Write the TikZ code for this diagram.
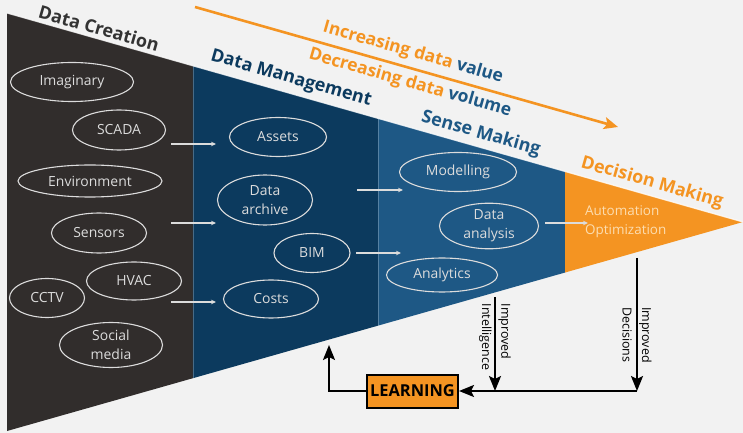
\documentclass[tikz,border=0pt]{standalone}
\usepackage{fontspec}
\setmainfont{Open Sans}
\usetikzlibrary{arrows.meta,calc,shapes.geometric}
\definecolor{bgc}{HTML}{F2F2F2}
\definecolor{cdark}{HTML}{312D2C}
\definecolor{cnavy}{HTML}{0C3A5E}
\definecolor{cblue}{HTML}{1E5885}
\definecolor{corange}{HTML}{F49422}
\definecolor{ctitle}{HTML}{333333}
\definecolor{elc}{HTML}{DCDCDC}
\definecolor{cream}{HTML}{FCDDB0}
\tikzset{
  ell/.style={ellipse, draw=elc, line width=1.1bp, text=elc, inner sep=0pt, align=center,
    font=\fontsize{14}{19}\selectfont},
  warrow/.style={draw=elc, line width=1.3bp, -{Stealth[length=5bp,width=4.5bp]}},
  title/.style={rotate=-15.86, font=\fontsize{18}{20}\selectfont\bfseries, inner sep=0pt},
  trend/.style={rotate=-15.86, font=\fontsize{17.5}{20}\selectfont\bfseries, text=corange, inner sep=0pt},
  fb/.style={draw=black, line width=2.2bp, -{Stealth[length=15bp,width=12bp,inset=3bp]}},
  vlabel/.style={rotate=-90, align=left, font=\fontsize{12.5}{19.5}\selectfont, inner sep=0pt},
}
\begin{document}
\begin{tikzpicture}[x=1bp,y=-1bp]
\useasboundingbox (0,0) rectangle (743,433);
\fill[bgc] (0,0) rectangle (743,433);
% funnel
\coordinate (A) at (7,13);
\coordinate (B) at (7,431);
\coordinate (P) at (743,222);
\coordinate (T1) at ($(A)!0.2527!(P)$);
\coordinate (B1) at ($(B)!0.2527!(P)$);
\coordinate (T2) at ($(A)!0.5041!(P)$);
\coordinate (B2) at ($(B)!0.5041!(P)$);
\coordinate (T3) at ($(A)!0.7582!(P)$);
\coordinate (B3) at ($(B)!0.7582!(P)$);
\fill[cdark] (A) -- (T1) -- (B1) -- (B) -- cycle;
\fill[cnavy] (T1) -- (T2) -- (B2) -- (B1) -- cycle;
\fill[cblue] (T2) -- (T3) -- (B3) -- (B2) -- cycle;
\fill[corange] (T3) -- (P) -- (B3) -- cycle;
\draw[white, opacity=0.25, line width=0.8bp] (T1) -- (B1) (T2) -- (B2);
\draw[white, opacity=0.8, line width=1.2bp] (A) -- (P);

% titles
\node[title, text=ctitle] (tcreate) at (99,28) {Data Creation};
\node[title, text=cnavy] (tmanage) at (291,79) {Data Management};
\node[title, text=cblue] (tsense) at (481,134) {Sense Making};
\node[title, text=corange] (tdecide) at (652,183) {Decision Making};

% trend
\coordinate (ts) at (195,7);
\coordinate (te) at (618,127);
\draw[corange, line width=2.6bp, -{Stealth[length=14bp,width=12bp,inset=3bp]}] (ts) -- (te);
\node[trend] (tinc) at (413,53) {Increasing data \textcolor{cblue}{value}};
\node[trend] (tdec) at (410,83) {Decreasing data \textcolor{cblue}{volume}};

% data creation ellipses
\node[ell, minimum width=123bp, minimum height=39bp] (imag) at (72,82) {Imaginary};
\node[ell, minimum width=93bp, minimum height=40bp] (scada) at (119,130) {SCADA};
\node[ell, minimum width=144bp, minimum height=32bp] (env) at (90,181) {Environment};
\node[ell, minimum width=95bp, minimum height=40bp] (sens) at (99,233) {Sensors};
\node[ell, minimum width=95bp, minimum height=38bp] (hvac) at (134,281) {HVAC};
\node[ell, minimum width=75bp, minimum height=39bp] (cctv) at (47,298) {CCTV};
\node[ell, minimum width=103bp, minimum height=45bp] (social) at (111,345) {Social\\media};

% data management ellipses
\node[ell, minimum width=97bp, minimum height=39bp] (assets) at (278,137) {Assets};
\node[ell, minimum width=95bp, minimum height=50bp] (archive) at (265,200) {Data\\archive};
\node[ell, minimum width=76bp, minimum height=39bp] (bim) at (312,253) {BIM};
\node[ell, minimum width=95bp, minimum height=38bp] (costs) at (271,299) {Costs};

% sense making ellipses
\node[ell, minimum width=117bp, minimum height=39bp] (model) at (458,172) {Modelling};
\node[ell, minimum width=99bp, minimum height=45bp] (anal) at (489,226) {Data\\analysis};
\node[ell, minimum width=111bp, minimum height=34bp] (analytics) at (442,275) {Analytics};

% decision making text
\node[align=left, text=cream, inner sep=0pt, anchor=west,
  font=\fontsize{13.5}{19}\selectfont] (auto) at (585,222) {Automation\\Optimization};

% small white arrows
\coordinate (a1s) at (171,144); \coordinate (a1e) at (216,144);
\coordinate (a2s) at (171,223); \coordinate (a2e) at (216,223);
\coordinate (a3s) at (171,302); \coordinate (a3e) at (216,302);
\coordinate (b1s) at (357,190); \coordinate (b1e) at (403,190);
\coordinate (b2s) at (356,253); \coordinate (b2e) at (401,253);
\coordinate (c1s) at (545,223); \coordinate (c1e) at (588,223);
\draw[warrow] (a1s) -- (a1e);
\draw[warrow] (a2s) -- (a2e);
\draw[warrow] (a3s) -- (a3e);
\draw[warrow] (b1s) -- (b1e);
\draw[warrow] (b2s) -- (b2e);
\draw[warrow] (c1s) -- (c1e);

% feedback loop
\node[draw=black, line width=2bp, fill=corange, minimum width=91bp, minimum height=33bp,
  inner sep=0pt, font=\fontsize{16.5}{18}\selectfont\bfseries] (learn) at (412.5,391) {LEARNING};
\coordinate (iitop) at (495,297);
\coordinate (iij) at (495,391);
\coordinate (idtop) at (637,258);
\coordinate (idj) at (637,391);
\coordinate (lrc) at (329,391);
\coordinate (lrt) at (329,345);
\draw[fb] (iitop) -- (iij);
\draw[fb] (idtop) -- (idj);
\draw[fb] (idj) -- (learn.east);
\draw[fb] (learn.west) -- (lrc) -- (lrt);
\node[vlabel] (lint) at (495,337) {Improved\\Intelligence};
\node[vlabel] (ldec) at (637,335) {Improved\\Decisions};
\end{tikzpicture}
\end{document}
